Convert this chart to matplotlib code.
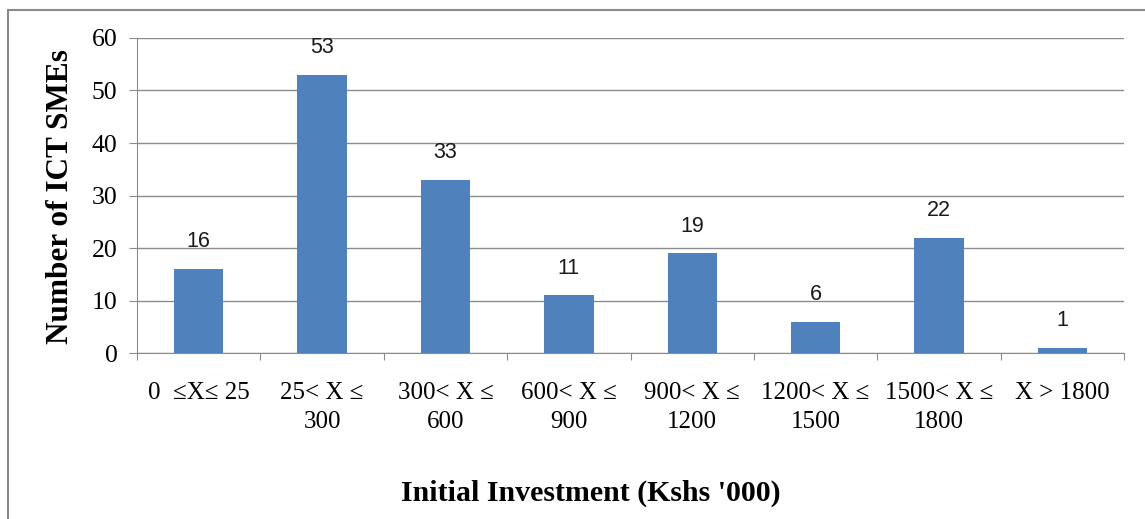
import matplotlib.pyplot as plt
import matplotlib
from matplotlib.patches import Rectangle
import numpy

categories = ['0  \u2264X\u2264 25', '25< X \u2264\n300', '300< X \u2264\n600', '600< X \u2264\n900',
              '900< X \u2264\n1200', '1200< X \u2264\n1500', '1500< X \u2264\n1800', 'X > 1800']
counts = [16, 53, 33, 11, 19, 6, 22, 1]

BAR_COLOR = '#4F81BD'
GRID_COLOR = '#8C8C8C'

matplotlib.rcParams.update({'font.family': 'Liberation Serif'})

fig = plt.figure(figsize=(11.45, 5.19), dpi=100)
ax = fig.add_axes([0.1197, 0.3198, 0.8620, 0.6070])

x = numpy.arange(len(categories))
ax.bar(x, counts, width=0.4, color=BAR_COLOR, zorder=3)

for xi, v in zip(x, counts):
    ax.annotate(str(v), (xi, v), xytext=(0, 12), textcoords='offset points',
                ha='center', va='bottom', fontsize=15.5, family='Liberation Sans', color='#1a1a1a')

ax.set_xlim(-0.5, len(categories) - 0.5)
ax.set_ylim(0, 60)
ax.set_yticks(range(0, 61, 10))
ax.yaxis.grid(True, color=GRID_COLOR, linewidth=1)
ax.set_axisbelow(True)

# category labels sit between the boundary ticks
ax.set_xticks(numpy.arange(-0.5, len(categories), 1))
ax.set_xticklabels([])
ax.set_xticks(x, minor=True)
ax.set_xticklabels(categories, minor=True, fontsize=18, linespacing=1.4)
ax.tick_params(axis='x', which='minor', length=0, pad=21)
ax.tick_params(axis='x', which='major', length=5, color=GRID_COLOR)
ax.tick_params(axis='y', length=6, color=GRID_COLOR, labelsize=18.5, pad=8)

for side in ['top', 'right']:
    ax.spines[side].set_visible(False)
for side in ['left', 'bottom']:
    ax.spines[side].set_color(GRID_COLOR)

fig.text(61 / 1145, 0.622, 'Number of ICT SMEs', rotation=90, ha='center', va='center',
         fontsize=22.5, fontweight='bold')
fig.text(0.516, 0.050, "Initial Investment (Kshs '000)", ha='center', va='center',
         fontsize=21.5, fontweight='bold')

fig.patches.append(Rectangle((8 / 1145, -0.05), 1.1, 0.05 + 1 - 10 / 519,
                             transform=fig.transFigure, fill=False,
                             edgecolor='#8A8A8A', linewidth=1.5))

fig.savefig('out.png', dpi=100)
